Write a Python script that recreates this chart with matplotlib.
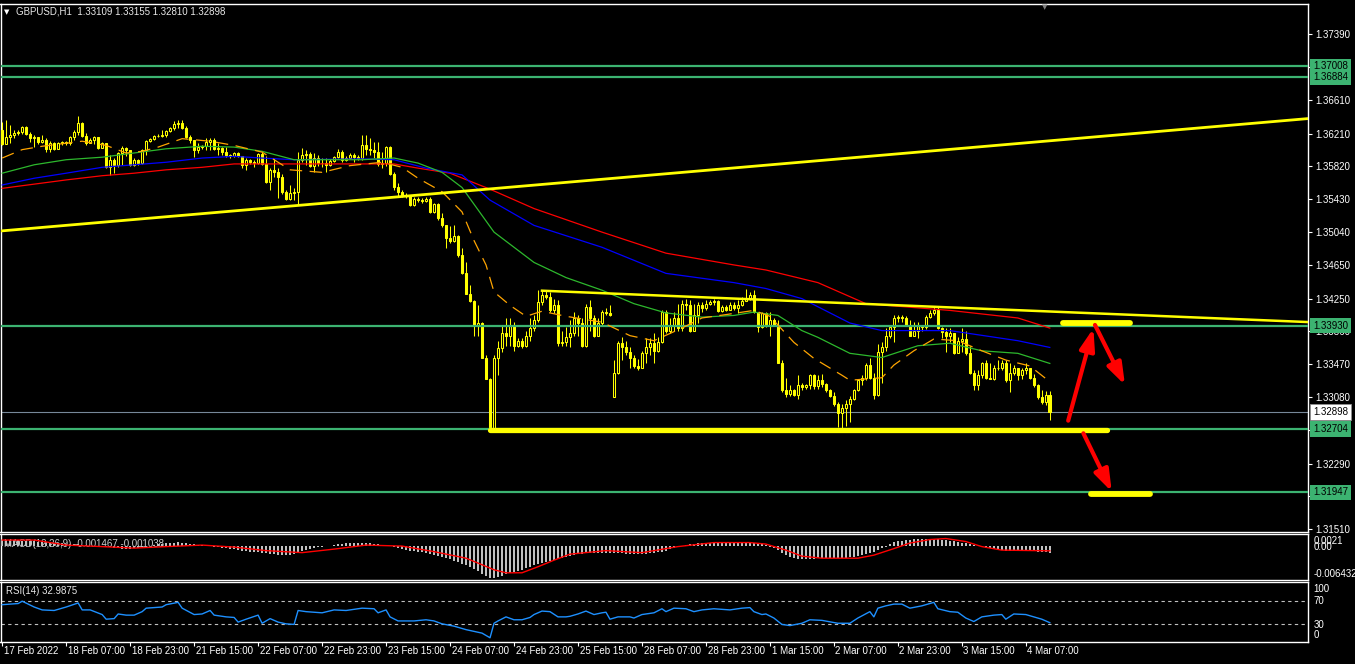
import numpy as np
import matplotlib.pyplot as plt
from matplotlib.transforms import blended_transform_factory as blend

plt.rcParams['font.family'] = ['Liberation Sans', 'DejaVu Sans']

# --- data (GBPUSD H1) ---
symbol = "GBPUSD,H1"
last_ohlc = ["1.33109", "1.33155", "1.32810", "1.32898"]
first_open = 1.3625
gap_bar = 153          # Monday open after the weekend
gap_open = 1.3308

closes = [
    1.3609, 1.3617, 1.3619, 1.3622, 1.3623, 1.3629, 1.3621, 1.3616, 1.3617, 1.3611,
    1.3613, 1.3603, 1.3610, 1.3603, 1.3610, 1.3611, 1.3610, 1.3617, 1.3623, 1.3634,
    1.3618, 1.3610, 1.3613, 1.3617, 1.3604, 1.3610, 1.3581, 1.3590, 1.3584, 1.3598,
    1.3604, 1.3602, 1.3584, 1.3590, 1.3586, 1.3602, 1.3612, 1.3615, 1.3618, 1.3618,
    1.3619, 1.3624, 1.3628, 1.3632, 1.3634, 1.3628, 1.3617, 1.3613, 1.3602, 1.3605,
    1.3606, 1.3611, 1.3613, 1.3603, 1.3604, 1.3599, 1.3596, 1.3594, 1.3598, 1.3594,
    1.3584, 1.3590, 1.3587, 1.3586, 1.3597, 1.3585, 1.3563, 1.3578, 1.3575, 1.3569,
    1.3552, 1.3543, 1.3550, 1.3552, 1.3590, 1.3596, 1.3597, 1.3583, 1.3592, 1.3586,
    1.3586, 1.3584, 1.3588, 1.3593, 1.3599, 1.3590, 1.3592, 1.3596, 1.3593, 1.3592,
    1.3607, 1.3603, 1.3602, 1.3599, 1.3585, 1.3586, 1.3605, 1.3573, 1.3558, 1.3552,
    1.3548, 1.3547, 1.3536, 1.3543, 1.3542, 1.3541, 1.3543, 1.3528, 1.3537, 1.3521,
    1.3512, 1.3497, 1.3494, 1.3499, 1.3477, 1.3455, 1.3431, 1.3422, 1.3393, 1.3396,
    1.3355, 1.3330, 1.3271, 1.3355, 1.3366, 1.3384, 1.3380, 1.3393, 1.3369, 1.3375,
    1.3369, 1.3381, 1.3390, 1.3399, 1.3421, 1.3429, 1.3427, 1.3411, 1.3417, 1.3372,
    1.3373, 1.3379, 1.3384, 1.3402, 1.3396, 1.3369, 1.3415, 1.3402, 1.3381, 1.3396,
    1.3409, 1.3408, 1.3406, 1.3337, 1.3372, 1.3368, 1.3361, 1.3355, 1.3345, 1.3343,
    1.3360, 1.3368, 1.3372, 1.3363, 1.3373, 1.3409, 1.3387, 1.3392, 1.3402, 1.3390,
    1.3419, 1.3417, 1.3387, 1.3405, 1.3417, 1.3414, 1.3419, 1.3421, 1.3422, 1.3410,
    1.3415, 1.3412, 1.3418, 1.3414, 1.3417, 1.3422, 1.3425, 1.3429, 1.3409, 1.3391,
    1.3408, 1.3394, 1.3400, 1.3394, 1.3349, 1.3316, 1.3312, 1.3316, 1.3310, 1.3322,
    1.3320, 1.3322, 1.3334, 1.3321, 1.3328, 1.3324, 1.3316, 1.3309, 1.3300, 1.3289,
    1.3295, 1.3300, 1.3306, 1.3316, 1.3328, 1.3331, 1.3346, 1.3331, 1.3310, 1.3361,
    1.3367, 1.3381, 1.3391, 1.3402, 1.3403, 1.3402, 1.3393, 1.3381, 1.3387, 1.3393,
    1.3391, 1.3403, 1.3408, 1.3411, 1.3390, 1.3385, 1.3380, 1.3384, 1.3360, 1.3375,
    1.3377, 1.3360, 1.3337, 1.3322, 1.3334, 1.3349, 1.3331, 1.3330, 1.3343, 1.3342,
    1.3349, 1.3328, 1.3337, 1.3343, 1.3334, 1.3340, 1.3343, 1.3331, 1.3322, 1.3308,
    1.3302, 1.3311, 1.32898,
]
highs = [
    1.3635, 1.3637, 1.3631, 1.3625, 1.3625, 1.3630, 1.3630, 1.3623, 1.3619, 1.3615,
    1.3619, 1.3616, 1.3612, 1.3611, 1.3611, 1.3612, 1.3612, 1.3618, 1.3625, 1.3642,
    1.3635, 1.3622, 1.3616, 1.3618, 1.3616, 1.3611, 1.3609, 1.3596, 1.3592, 1.3599,
    1.3606, 1.3605, 1.3602, 1.3592, 1.3591, 1.3603, 1.3613, 1.3616, 1.3619, 1.3621,
    1.3625, 1.3625, 1.3629, 1.3636, 1.3637, 1.3637, 1.3630, 1.3619, 1.3613, 1.3610,
    1.3607, 1.3616, 1.3616, 1.3616, 1.3610, 1.3605, 1.3605, 1.3597, 1.3599, 1.3599,
    1.3594, 1.3592, 1.3591, 1.3590, 1.3598, 1.3599, 1.3594, 1.3580, 1.3592, 1.3580,
    1.3573, 1.3554, 1.3560, 1.3556, 1.3599, 1.3604, 1.3602, 1.3599, 1.3598, 1.3596,
    1.3592, 1.3592, 1.3591, 1.3594, 1.3603, 1.3602, 1.3594, 1.3598, 1.3598, 1.3596,
    1.3619, 1.3619, 1.3616, 1.3611, 1.3611, 1.3599, 1.3606, 1.3606, 1.3575, 1.3562,
    1.3554, 1.3550, 1.3548, 1.3546, 1.3546, 1.3544, 1.3546, 1.3546, 1.3538, 1.3538,
    1.3527, 1.3513, 1.3511, 1.3512, 1.3500, 1.3485, 1.3468, 1.3441, 1.3423, 1.3417,
    1.3397, 1.3358, 1.3331, 1.3358, 1.3375, 1.3393, 1.3402, 1.3402, 1.3397, 1.3378,
    1.3378, 1.3387, 1.3402, 1.3405, 1.3435, 1.3435, 1.3434, 1.3433, 1.3425, 1.3423,
    1.3387, 1.3391, 1.3399, 1.3409, 1.3405, 1.3402, 1.3419, 1.3423, 1.3405, 1.3402,
    1.3411, 1.3414, 1.3417, 1.3352, 1.3375, 1.3379, 1.3375, 1.3367, 1.3358, 1.3353,
    1.3363, 1.3378, 1.3378, 1.3384, 1.3379, 1.3411, 1.3411, 1.3402, 1.3409, 1.3419,
    1.3423, 1.3425, 1.3423, 1.3419, 1.3421, 1.3421, 1.3423, 1.3423, 1.3424, 1.3423,
    1.3417, 1.3417, 1.3421, 1.3421, 1.3423, 1.3427, 1.3436, 1.3433, 1.3435, 1.3409,
    1.3409, 1.3409, 1.3409, 1.3402, 1.3399, 1.3352, 1.3331, 1.3322, 1.3318, 1.3334,
    1.3325, 1.3324, 1.3335, 1.3335, 1.3334, 1.3336, 1.3325, 1.3318, 1.3314, 1.3302,
    1.3300, 1.3304, 1.3309, 1.3318, 1.3330, 1.3334, 1.3348, 1.3354, 1.3337, 1.3371,
    1.3373, 1.3390, 1.3393, 1.3405, 1.3405, 1.3405, 1.3404, 1.3399, 1.3397, 1.3397,
    1.3394, 1.3405, 1.3411, 1.3415, 1.3415, 1.3391, 1.3390, 1.3390, 1.3381, 1.3379,
    1.3390, 1.3387, 1.3369, 1.3340, 1.3340, 1.3350, 1.3352, 1.3349, 1.3346, 1.3352,
    1.3352, 1.3352, 1.3349, 1.3346, 1.3342, 1.3343, 1.3348, 1.3342, 1.3336, 1.3324,
    1.3316, 1.3315, 1.33155,
]
lows = [
    1.3607, 1.3609, 1.3610, 1.3616, 1.3619, 1.3621, 1.3619, 1.3611, 1.3605, 1.3609,
    1.3610, 1.3599, 1.3599, 1.3602, 1.3603, 1.3607, 1.3607, 1.3607, 1.3613, 1.3619,
    1.3617, 1.3607, 1.3610, 1.3609, 1.3603, 1.3604, 1.3580, 1.3572, 1.3574, 1.3581,
    1.3584, 1.3594, 1.3583, 1.3583, 1.3584, 1.3585, 1.3596, 1.3611, 1.3613, 1.3617,
    1.3617, 1.3617, 1.3623, 1.3625, 1.3628, 1.3627, 1.3616, 1.3610, 1.3593, 1.3598,
    1.3603, 1.3602, 1.3602, 1.3602, 1.3596, 1.3596, 1.3593, 1.3592, 1.3593, 1.3593,
    1.3580, 1.3578, 1.3585, 1.3581, 1.3585, 1.3584, 1.3562, 1.3554, 1.3569, 1.3544,
    1.3549, 1.3542, 1.3542, 1.3542, 1.3536, 1.3587, 1.3584, 1.3581, 1.3575, 1.3583,
    1.3581, 1.3575, 1.3583, 1.3587, 1.3592, 1.3587, 1.3588, 1.3591, 1.3587, 1.3590,
    1.3590, 1.3596, 1.3596, 1.3592, 1.3583, 1.3580, 1.3583, 1.3572, 1.3554, 1.3546,
    1.3546, 1.3544, 1.3535, 1.3535, 1.3540, 1.3538, 1.3540, 1.3527, 1.3527, 1.3518,
    1.3510, 1.3485, 1.3491, 1.3492, 1.3475, 1.3454, 1.3430, 1.3421, 1.3381, 1.3381,
    1.3354, 1.3329, 1.3268, 1.3268, 1.3334, 1.3361, 1.3369, 1.3369, 1.3363, 1.3367,
    1.3366, 1.3367, 1.3375, 1.3387, 1.3397, 1.3418, 1.3425, 1.3409, 1.3408, 1.3369,
    1.3369, 1.3369, 1.3367, 1.3381, 1.3381, 1.3367, 1.3368, 1.3387, 1.3379, 1.3380,
    1.3393, 1.3405, 1.3404, 1.3308, 1.3336, 1.3352, 1.3358, 1.3343, 1.3342, 1.3340,
    1.3342, 1.3349, 1.3358, 1.3349, 1.3361, 1.3372, 1.3384, 1.3384, 1.3387, 1.3387,
    1.3387, 1.3411, 1.3385, 1.3387, 1.3396, 1.3409, 1.3411, 1.3417, 1.3418, 1.3409,
    1.3409, 1.3410, 1.3411, 1.3411, 1.3408, 1.3416, 1.3423, 1.3423, 1.3408, 1.3385,
    1.3390, 1.3391, 1.3381, 1.3392, 1.3348, 1.3314, 1.3308, 1.3309, 1.3309, 1.3306,
    1.3316, 1.3318, 1.3318, 1.3318, 1.3318, 1.3320, 1.3314, 1.3308, 1.3298, 1.3272,
    1.3271, 1.3274, 1.3278, 1.3304, 1.3315, 1.3322, 1.3328, 1.3330, 1.3306, 1.3309,
    1.3325, 1.3363, 1.3378, 1.3373, 1.3397, 1.3397, 1.3392, 1.3380, 1.3380, 1.3378,
    1.3387, 1.3389, 1.3402, 1.3405, 1.3389, 1.3378, 1.3361, 1.3373, 1.3359, 1.3361,
    1.3361, 1.3358, 1.3336, 1.3316, 1.3316, 1.3331, 1.3330, 1.3329, 1.3328, 1.3340,
    1.3340, 1.3326, 1.3314, 1.3334, 1.3328, 1.3330, 1.3336, 1.3330, 1.3320, 1.3306,
    1.3300, 1.3299, 1.32810,
]

# moving averages, read at sample bars
red_ma_bars = [0, 8, 16, 25, 33, 41, 50, 58, 66, 90, 98, 104, 112, 122, 133, 150,
               166, 183, 191, 204, 216, 229, 237, 254, 262]
red_ma = [1.3556, 1.3561, 1.3566, 1.3571, 1.3574, 1.3578, 1.3581, 1.3585, 1.3585,
          1.3585, 1.3585, 1.3580, 1.3574, 1.3555, 1.3532, 1.3504, 1.3479, 1.3465,
          1.3459, 1.3444, 1.3419, 1.3414, 1.3411, 1.3402, 1.3390]
blue_ma_bars = [0, 8, 16, 25, 33, 41, 50, 58, 65, 73, 90, 98, 106, 115, 122, 133,
                150, 166, 183, 191, 200, 212, 220, 237, 254, 262]
blue_ma = [1.3560, 1.3568, 1.3574, 1.3581, 1.3584, 1.3587, 1.3592, 1.3594, 1.3592,
           1.3590, 1.3591, 1.3590, 1.3580, 1.3572, 1.3542, 1.3512, 1.3486, 1.3455,
           1.3444, 1.3437, 1.3425, 1.3396, 1.3387, 1.3387, 1.3375, 1.3367]
green_ma_bars = [0, 8, 16, 25, 33, 41, 50, 58, 65, 73, 90, 98, 104, 110, 115, 123,
                 133, 141, 150, 158, 166, 175, 183, 188, 194, 200, 204, 212, 220,
                 229, 237, 245, 254, 262]
green_ma = [1.3574, 1.3584, 1.3590, 1.3593, 1.3598, 1.3603, 1.3606, 1.3605, 1.3600,
            1.3590, 1.3590, 1.3592, 1.3586, 1.3575, 1.3557, 1.3504, 1.3468, 1.3450,
            1.3435, 1.3419, 1.3408, 1.3403, 1.3405, 1.3409, 1.3405, 1.3387, 1.3379,
            1.3360, 1.3355, 1.3369, 1.3372, 1.3363, 1.3360, 1.3348]
orange_ma_bars = [0, 5, 10, 20, 26, 31, 35, 39, 45, 52, 58, 65, 72, 80, 87, 95, 100,
                  104, 110, 115, 118, 121, 123, 127, 131, 135, 141, 150, 157, 163,
                  170, 175, 181, 188, 192, 198, 203, 210, 212, 220, 223, 228, 233,
                  239, 245, 251, 257, 261]
orange_ma = [1.3592, 1.3602, 1.3606, 1.3612, 1.3607, 1.3598, 1.3600, 1.3605, 1.3615,
             1.3612, 1.3607, 1.3599, 1.3578, 1.3575, 1.3583, 1.3587, 1.3581, 1.3568,
             1.3552, 1.3528, 1.3494, 1.3465, 1.3433, 1.3417, 1.3404, 1.3410, 1.3404,
             1.3397, 1.3381, 1.3375, 1.3390, 1.3402, 1.3406, 1.3411, 1.3404, 1.3373,
             1.3354, 1.3334, 1.3328, 1.3331, 1.3346, 1.3363, 1.3377, 1.3375, 1.3363,
             1.3352, 1.3345, 1.3330]

# MACD(12,26,9)
macd_hist = [
    0.0012, 0.0012, 0.0011, 0.0011, 0.0011, 0.0010, 0.0010, 0.0009, 0.0009, 0.0008,
    0.0008, 0.0007, 0.0006, 0.0006, 0.0005, 0.0005, 0.0004, 0.0004, 0.0003, 0.0003,
    0.0002, 0.0001, 0.0000, -0.0001, -0.0001, -0.0002, -0.0002, -0.0003, -0.0004, -0.0005,
    -0.0006, -0.0006, -0.0006, -0.0005, -0.0004, -0.0003, -0.0002, 0.0000, 0.0002, 0.0003,
    0.0004, 0.0005, 0.0006, 0.0006, 0.0007, 0.0006, 0.0005, 0.0004, 0.0003, 0.0002,
    0.0001, 0.0000, -0.0001, -0.0002, -0.0003, -0.0004, -0.0005, -0.0006, -0.0007, -0.0008,
    -0.0010, -0.0011, -0.0012, -0.0013, -0.0013, -0.0014, -0.0015, -0.0016, -0.0017, -0.0018,
    -0.0019, -0.0019, -0.0019, -0.0017, -0.0013, -0.0010, -0.0008, -0.0006, -0.0005, -0.0003,
    -0.0002, -0.0001, 0.0000, 0.0002, 0.0003, 0.0004, 0.0005, 0.0005, 0.0005, 0.0006,
    0.0006, 0.0006, 0.0005, 0.0004, 0.0003, 0.0002, 0.0001, -0.0001, -0.0003, -0.0005,
    -0.0007, -0.0009, -0.0010, -0.0011, -0.0012, -0.0013, -0.0015, -0.0016, -0.0018, -0.0020,
    -0.0022, -0.0024, -0.0027, -0.0030, -0.0033, -0.0036, -0.0039, -0.0042, -0.0046, -0.0050,
    -0.0056, -0.0061, -0.0064, -0.0064, -0.0063, -0.0060, -0.0057, -0.0055, -0.0053, -0.0050,
    -0.0048, -0.0045, -0.0042, -0.0039, -0.0037, -0.0035, -0.0033, -0.0031, -0.0029, -0.0027,
    -0.0024, -0.0022, -0.0020, -0.0018, -0.0017, -0.0016, -0.0015, -0.0015, -0.0014, -0.0014,
    -0.0014, -0.0014, -0.0014, -0.0015, -0.0015, -0.0015, -0.0016, -0.0016, -0.0017, -0.0017,
    -0.0017, -0.0016, -0.0015, -0.0014, -0.0013, -0.0012, -0.0010, -0.0007, -0.0005, -0.0002,
    0.0000, 0.0001, 0.0003, 0.0004, 0.0005, 0.0005, 0.0006, 0.0006, 0.0006, 0.0007,
    0.0006, 0.0006, 0.0006, 0.0006, 0.0006, 0.0006, 0.0005, 0.0005, 0.0005, 0.0004,
    0.0003, 0.0001, -0.0002, -0.0005, -0.0009, -0.0014, -0.0019, -0.0022, -0.0024, -0.0026,
    -0.0027, -0.0027, -0.0026, -0.0026, -0.0025, -0.0025, -0.0025, -0.0025, -0.0025, -0.0025,
    -0.0024, -0.0024, -0.0023, -0.0022, -0.0021, -0.0019, -0.0017, -0.0015, -0.0012, -0.0009,
    -0.0005, -0.0002, 0.0003, 0.0007, 0.0009, 0.0010, 0.0011, 0.0012, 0.0013, 0.0013,
    0.0014, 0.0014, 0.0014, 0.0013, 0.0013, 0.0012, 0.0011, 0.0010, 0.0009, 0.0008,
    0.0006, 0.0005, 0.0003, 0.0001, -0.0001, -0.0002, -0.0004, -0.0005, -0.0006, -0.0008,
    -0.0009, -0.0010, -0.0010, -0.0011, -0.0011, -0.0011, -0.0011, -0.0011, -0.0011, -0.0012,
    -0.0012, -0.0013, -0.001467,
]
signal_bars = [0, 8, 16, 25, 33, 41, 50, 58, 66, 75, 83, 91, 100, 108, 116, 120, 123,
               126, 130, 134, 138, 142, 151, 160, 169, 178, 187, 191, 196, 200, 205,
               214, 218, 223, 227, 232, 236, 241, 245, 250, 262]
signal = [0.0011, 0.0011, 0.0001, -0.0002, -0.0005, -0.0002, 0.0001, -0.0003, -0.0010,
          -0.0014, -0.0007, 0.0001, -0.0001, -0.0012, -0.0025, -0.0038, -0.0048,
          -0.0054, -0.0054, -0.0042, -0.0029, -0.0017, -0.0010, -0.0014, -0.0002,
          0.0006, 0.0006, 0.0003, -0.0009, -0.0021, -0.0025, -0.0025, -0.0019,
          -0.0006, 0.0005, 0.0012, 0.0014, 0.0008, -0.0002, -0.0009, -0.001038]

# RSI(14)
rsi_bars = [0, 4, 5, 8, 10, 13, 16, 19, 20, 22, 25, 26, 28, 29, 31, 33, 35, 36, 40, 41,
            44, 45, 48, 50, 52, 53, 56, 58, 59, 61, 64, 65, 67, 69, 71, 73, 74, 76, 80, 83,
            86, 90, 93, 94, 96, 97, 99, 103, 106, 108, 110, 113, 116, 120, 122, 123, 124,
            126, 128, 130, 132, 133, 135, 137, 139, 141, 142, 144, 146, 148, 150, 151,
            152, 154, 157, 158, 160, 163, 165, 166, 168, 171, 173, 175, 178, 182, 185,
            187, 188, 190, 191, 193, 195, 197, 200, 202, 205, 209, 212, 214, 217, 218,
            219, 221, 223, 225, 227, 230, 233, 234, 237, 239, 241, 243, 245, 248, 250,
            251, 253, 256, 258, 260, 262]
rsi = [64, 66, 70, 60, 55, 54, 60, 67, 55, 55, 47, 39, 40, 48, 46, 46, 52, 58, 60, 64,
       68, 58, 47, 48, 54, 46, 43, 42, 34, 39, 46, 32, 40, 34, 31, 30, 54, 52, 50, 55,
       54, 58, 57, 50, 55, 43, 36, 36, 38, 36, 31, 27, 21, 15, 7, 32, 36,
       43, 38, 38, 42, 47, 53, 52, 43, 43, 44, 48, 53, 47, 50, 51,
       39, 43, 43, 41, 47, 50, 57, 52, 58, 57, 52, 55, 57, 55, 58,
       59, 52, 47, 48, 41, 30, 28, 32, 38, 37, 32, 32, 41, 52, 43,
       58, 62, 65, 65, 58, 62, 68, 57, 52, 51, 41, 35, 43, 46, 47,
       39, 48, 47, 43, 39, 32.9875]

# horizontal levels, trend lines and drawings
green_levels = [1.37008, 1.36884, 1.33930, 1.32704, 1.31947]
bid_price = 1.32898
price_ticks = [1.37390, 1.37000, 1.36610, 1.36210, 1.35820, 1.35430, 1.35040, 1.34650,
               1.34250, 1.33860, 1.33470, 1.33080, 1.32690, 1.32290, 1.31900, 1.31510]
up_trend = [(0, 1.35055), (262, 1.36125)]
down_trend = [(135, 1.34344), (262, 1.34097)]
support = (122, 276.4, 1.32694)
targets = [(265.3, 282.1, 1.33962), (272.3, 287.1, 1.31932)]
arrows = [((266.6, 1.32800), (272.9, 1.33897)),
          ((273.3, 1.33937), (280.8, 1.33224)),
          ((270.4, 1.32650), (277.5, 1.31956))]

time_labels = ["17 Feb 2022", "18 Feb 07:00", "18 Feb 23:00", "21 Feb 15:00",
               "22 Feb 07:00", "22 Feb 23:00", "23 Feb 15:00", "24 Feb 07:00",
               "24 Feb 23:00", "25 Feb 15:00", "28 Feb 07:00", "28 Feb 23:00",
               "1 Mar 15:00", "2 Mar 07:00", "2 Mar 23:00", "3 Mar 15:00", "4 Mar 07:00"]
label_step = 16

YEL = '#FFFF00'
GREEN = '#3CB371'
W, H = 1355, 664
XL = (-0.425, 326.575)

fig = plt.figure(figsize=(W / 100, H / 100), dpi=100, facecolor='black')


def panel(top, bottom):
    a = fig.add_axes([0.5 / W, 1 - bottom / H, 1307.5 / W, (bottom - top) / H])
    a.set_facecolor('black')
    for s in a.spines.values():
        s.set_color('white')
        s.set_linewidth(1)
    a.set_xlim(*XL)
    a.tick_params(left=False, labelleft=False, bottom=False, labelbottom=False)
    return a


def right_text(a, yfrac, txt):
    a.text(1.004, yfrac, txt, transform=a.transAxes, color='white', fontsize=7,
           ha='left', va='center', clip_on=False)


# ---------------- main price panel ----------------
ax = panel(4, 532)
ax.set_ylim(1.314773, 1.3775)

c = np.array(closes)
o = np.r_[first_open, c[:-1]]
o[gap_bar] = gap_open
h = np.maximum(np.array(highs), np.maximum(o, c))
l = np.minimum(np.array(lows), np.minimum(o, c))
x = np.arange(len(c))
bull = c > o

ax.axhline(bid_price, color='#778899', lw=0.8, zorder=2)
ax.vlines(x, l, h, color=YEL, lw=0.75, zorder=3)
ax.bar(x, np.abs(c - o), bottom=np.minimum(o, c), width=0.65,
       color=np.where(bull, 'black', YEL), edgecolor=YEL, linewidth=0.75, zorder=4)

for lv in green_levels:
    ax.axhline(lv, color=GREEN, lw=1.6, zorder=5)

ax.plot(red_ma_bars, red_ma, color='#FF0000', lw=0.9, zorder=6)
ax.plot(blue_ma_bars, blue_ma, color='#0000FF', lw=0.9, zorder=6)
ax.plot(green_ma_bars, green_ma, color='#2DB82D', lw=0.9, zorder=6)
ax.plot(orange_ma_bars, orange_ma, color='#FFA500', lw=0.9, ls=(0, (10, 6)), zorder=6)

ax.axline(up_trend[0], up_trend[1], color=YEL, lw=2, zorder=7)
(b0, p0), (b1, p1) = down_trend
slope = (p1 - p0) / (b1 - b0)
ax.plot([b0, XL[1]], [p0, p0 + slope * (XL[1] - b0)], color=YEL, lw=1.8, zorder=7)
ax.plot(support[:2], [support[2]] * 2, color=YEL, lw=3.8, solid_capstyle='round', zorder=7)
for xa, xb, lv in targets:
    ax.plot([xa, xb], [lv, lv], color=YEL, lw=4.2, solid_capstyle='round', zorder=7)

for tail, tip in arrows:
    ax.annotate('', xy=tip, xytext=tail, annotation_clip=False, zorder=9,
                arrowprops=dict(arrowstyle='-|>,head_length=1.3,head_width=0.45',
                                color='#FF0000', lw=3, shrinkA=0, shrinkB=0,
                                mutation_scale=10))

ax.yaxis.tick_right()
ax.set_yticks(price_ticks)
ax.set_yticklabels([f"{v:.5f}" for v in price_ticks])
ax.tick_params(axis='y', right=True, labelright=True, colors='white', labelsize=7,
               length=3, width=0.8, pad=2)

tr = blend(ax.transAxes, ax.transData)
for lv in green_levels:
    ax.text(1.0037, lv, f"{lv:.5f}", transform=tr, ha='left', va='center', fontsize=7,
            color='black', zorder=20, clip_on=False,
            bbox=dict(boxstyle='square,pad=0.3', fc=GREEN, ec='none'))
ax.text(1.0037, bid_price, f"{bid_price:.5f}", transform=tr, ha='left', va='center',
        fontsize=7, color='black', zorder=20, clip_on=False,
        bbox=dict(boxstyle='square,pad=0.3', fc='white', ec='#909090', lw=0.6))

fig.text(4 / W, 1 - 12 / H, '\u25BC', color='white', fontsize=5, family='DejaVu Sans',
         va='center')
fig.text(16 / W, 1 - 12 / H, f"{symbol}  " + " ".join(last_ohlc), color='#E8E8E8',
         fontsize=7, va='center')
fig.text(1045 / W, 1 - 7 / H, '\u25BC', color='#808080', fontsize=5,
         family='DejaVu Sans', ha='center', va='center')

# ---------------- MACD panel ----------------
ax2 = panel(534, 580)
ax2.set_ylim(-0.00683, 0.0023)
ax2.text(3 / 1307.5, (580 - 544) / 46,
         f"MACD(12,26,9) {macd_hist[-1]:.6f} {signal[-1]:.6f}",
         transform=ax2.transAxes, color='#D0D0D0', fontsize=7, va='center', zorder=1)
ax2.bar(x, macd_hist, width=0.55, color='#C0C0C0', zorder=3)
ax2.plot(signal_bars, signal, color='#FF0000', lw=1, zorder=4)
right_text(ax2, (580 - 541) / 46, "0.0021")
right_text(ax2, (580 - 547.5) / 46, "0.00")
right_text(ax2, (580 - 574) / 46, "-0.006432")

# ---------------- RSI panel ----------------
ax3 = panel(582, 642)
ax3.set_ylim(-0.3, 103.1)
for lv in (70, 30):
    ax3.axhline(lv, color='#C0C0C0', lw=0.8, ls=(0, (3, 3)), zorder=2)
ax3.plot(rsi_bars, rsi, color='#1E90FF', lw=1, zorder=3)
ax3.text(5 / 1307.5, (642 - 591) / 60, f"RSI(14) {rsi[-1]:.4f}", transform=ax3.transAxes,
         color='#E8E8E8', fontsize=7, va='center')
right_text(ax3, (642 - 589) / 60, "100")
right_text(ax3, (642 - 601.5) / 60, "70")
right_text(ax3, (642 - 624.5) / 60, "30")
right_text(ax3, (642 - 635) / 60, "0")

tick_bars = np.arange(len(time_labels)) * label_step
ax3.set_xticks(tick_bars)
ax3.tick_params(axis='x', bottom=True, labelbottom=False, colors='white', length=3,
                width=0.8, direction='out')
trx = blend(ax3.transData, ax3.transAxes)
for b, lab in zip(tick_bars, time_labels):
    ax3.text(b + 0.4, -0.15, lab, transform=trx, color='white', fontsize=7,
             ha='left', va='center', clip_on=False)

fig.savefig('out.png', dpi=100, facecolor='black')
